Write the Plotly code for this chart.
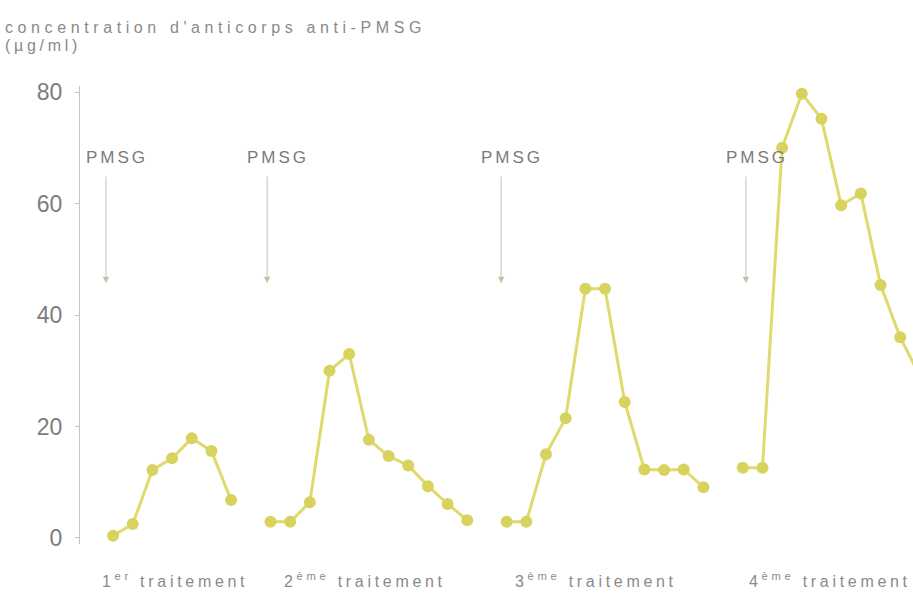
import plotly.graph_objects as go

# ---- data ----
treatments = ["1<sup>er</sup> traitement", "2<sup>ème</sup> traitement",
              "3<sup>ème</sup> traitement", "4<sup>ème</sup> traitement"]
t1_values = [0.4, 2.5, 12.2, 14.3, 17.9, 15.6, 6.8]
t2_values = [2.9, 2.9, 6.4, 30.0, 33.0, 17.6, 14.7, 13.0, 9.3, 6.1, 3.2]
t3_values = [2.9, 2.9, 15.0, 21.5, 44.7, 44.7, 24.4, 12.3, 12.2, 12.3, 9.1]
t4_values = [12.6, 12.6, 70.0, 79.7, 75.2, 59.7, 61.8, 45.4, 36.0, 29.0]
group_start = [0, 8, 20, 32]          # sample index where each treatment starts
pmsg_at = [-0.36, 7.83, 19.72, 32.16]  # sample index of PMSG injections
y_ticks = [0, 20, 40, 60, 80]
title_lines = ["concentration d'anticorps anti-PMSG", "(µg/ml)"]

groups = [t1_values, t2_values, t3_values, t4_values]

LINE = "#e0da6c"
MARK = "#d8d35e"
TXT = "#8a8a8a"
FONT = "Liberation Sans"

fig = go.Figure()
for start, vals in zip(group_start, groups):
    fig.add_trace(go.Scatter(
        x=[start + i for i in range(len(vals))], y=vals,
        mode="lines+markers",
        line=dict(color=LINE, width=3),
        marker=dict(color=MARK, size=12, symbol="circle"),
        showlegend=False, hoverinfo="skip"))

ann = []
# PMSG arrows + labels
for xa in pmsg_at:
    ann.append(dict(x=xa, y=45.7, xref="x", yref="y", ax=xa, ay=65.1,
                    axref="x", ayref="y", text="", showarrow=True,
                    arrowhead=2, arrowsize=1.3, arrowwidth=1,
                    arrowcolor="#c5c2a4"))
    ann.append(dict(x=xa, y=68.3, xref="x", yref="y", text="PMSG",
                    showarrow=False, xanchor="left", align="left", xshift=-22,
                    font=dict(family=FONT, size=17, color="#7a7a7a")))
# treatment labels below the axis
label_x = [-0.65, 8.6, 20.3, 32.2]
for lx, t in zip(label_x, treatments):
    ann.append(dict(x=lx, y=-0.079, xref="x", yref="paper", text=t,
                    showarrow=False, xanchor="left", yanchor="middle",
                    align="left",
                    font=dict(family=FONT, size=16, color=TXT)))
# axis title (top-left)
ann.append(dict(x=0, y=1, xref="paper", yref="paper", xshift=-77, yshift=59,
                text=title_lines[0], showarrow=False, xanchor="left",
                yanchor="middle", align="left",
                font=dict(family=FONT, size=16, color=TXT)))
ann.append(dict(x=0, y=1, xref="paper", yref="paper", xshift=-77, yshift=41,
                text=title_lines[1], showarrow=False, xanchor="left",
                yanchor="middle", align="left",
                font=dict(family=FONT, size=16, color=TXT)))

fig.update_layout(
    width=913, height=595,
    margin=dict(l=80, r=0, t=86, b=51),
    paper_bgcolor="white", plot_bgcolor="white",
    annotations=ann,
    xaxis=dict(range=[-1.68, 40.65], visible=False),
    yaxis=dict(range=[-1.08, 81.08], tickvals=y_ticks,
               showgrid=False, zeroline=False,
               showline=True, linecolor="#c4c4c4", linewidth=1,
               ticks="outside", ticklen=4, tickcolor="#c4c4c4",
               ticklabelstandoff=8,
               tickfont=dict(family=FONT, size=23, color="#7d7d7d")),
)

post = """
document.body.style.margin = '0';
document.body.style.overflow = 'hidden';
var gd = document.getElementById('{plot_id}');
function ls(){
  document.querySelectorAll('.annotation-text').forEach(function(e){
    var t = e.textContent;
    if (t.indexOf('PMSG') >= 0 && t.length < 6) { e.style.letterSpacing = '3px'; }
    else if (t.indexOf('concentration') >= 0) { e.style.letterSpacing = '4.6px'; }
    else { e.style.letterSpacing = '3.7px'; }
  });
}
ls(); setTimeout(ls, 30);
gd.on('plotly_afterplot', ls);
"""
fig.write_html("out.html", post_script=post, config={"displayModeBar": False})
